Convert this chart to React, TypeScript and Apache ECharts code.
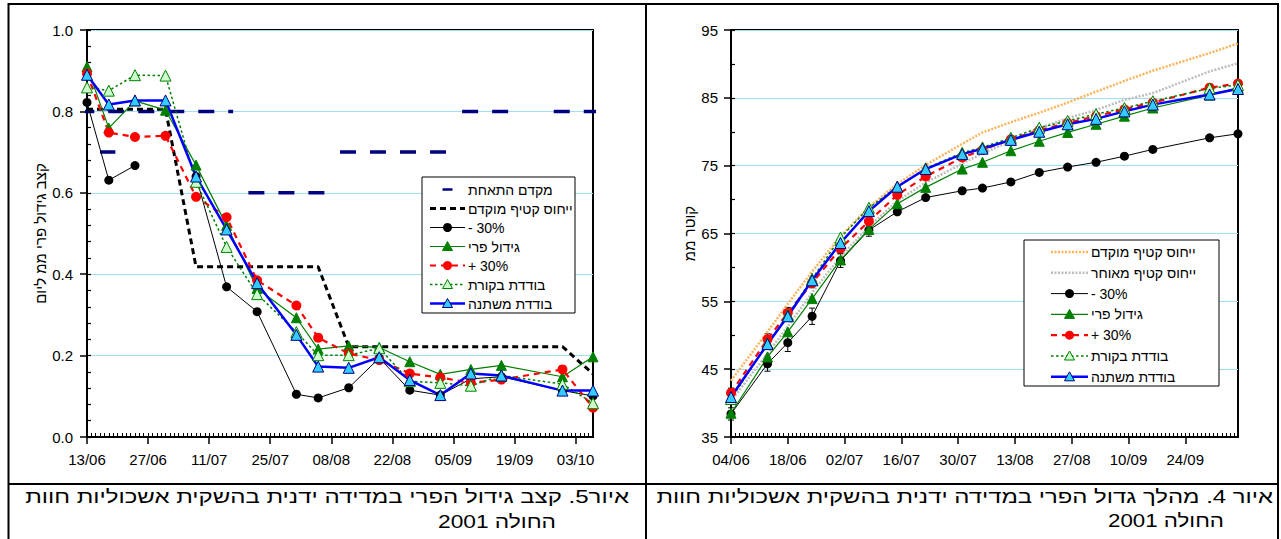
import React, { useEffect, useRef } from 'react';
import * as echarts from 'echarts';

const FONT = '"Liberation Sans", Arial, sans-serif';
const GRID_C = '#9fdff5';

// ---------- Figure 5 (left): fruit growth rate, mm/day ----------
const L_START = '13/06';
const L_MAX_DAY = 116; // 07/10
const L_DATES = ['13/06', '18/06', '24/06', '01/07', '08/07', '15/07', '22/07', '31/07', '05/08', '12/08', '19/08', '26/08', '02/09', '09/09', '16/09', '30/09', '07/10'];
const L_MINUS30 = [0.822, 0.631, 0.667, null, 0.640, 0.369, 0.308, 0.105, 0.096, 0.121, 0.194, 0.115, 0.103, 0.143, 0.148, 0.114, 0.101];
const L_GROWTH = [0.910, 0.759, 0.826, 0.803, 0.668, 0.520, 0.365, 0.293, 0.216, 0.224, 0.220, 0.185, 0.154, 0.166, 0.176, 0.148, 0.197];
const L_PLUS30 = [0.893, 0.748, 0.737, 0.740, 0.590, 0.540, 0.385, 0.323, 0.244, 0.205, 0.189, 0.156, 0.146, 0.133, 0.141, 0.166, 0.072];
const L_CONTROL = [0.859, 0.851, 0.889, 0.888, 0.627, 0.467, 0.351, 0.258, 0.201, 0.201, 0.218, 0.137, 0.133, 0.126, 0.151, 0.130, 0.083];
const L_VARIABLE = [0.890, 0.817, 0.827, 0.827, 0.640, 0.510, 0.378, 0.251, 0.173, 0.170, 0.196, 0.140, 0.103, 0.156, 0.151, 0.114, 0.114];
const L_REF_DATES = ['13/06', '01/07', '08/07', '05/08', '12/08', '30/09', '07/10'];
const L_REF = [0.805, 0.805, 0.418, 0.418, 0.222, 0.222, 0.155];
// crop coefficient steps (days from 13/06)
const L_COEF_FROM = [-2, 3, 37, 58, 86, 107];
const L_COEF_TO = [33.5, 6.5, 55, 83, 97.5, 118];
const L_COEF = [0.8, 0.7, 0.6, 0.7, 0.8, 0.8];

// ---------- Figure 4 (right): fruit diameter, mm ----------
const R_START = '04/06';
const R_MAX_DAY = 125; // 07/10
const R_DATES = ['04/06', '13/06', '18/06', '24/06', '01/07', '08/07', '15/07', '22/07', '31/07', '05/08', '12/08', '19/08', '26/08', '02/09', '09/09', '16/09', '30/09', '07/10'];
const R_EARLY = [43.3, 50.5, 54.6, 59.4, 64.6, 68.9, 72.3, 75.1, 78.2, 79.9, 81.4, 82.8, 84.3, 85.9, 87.5, 89.0, 91.6, 93.0];
const R_LATE = [40.3, 47.3, 51.3, 56.3, 61.6, 66.0, 69.8, 72.5, 75.3, 76.8, 78.6, 80.5, 82.0, 83.2, 84.7, 85.7, 88.9, 90.1];
const R_MINUS30 = [38.4, 45.8, 48.9, 52.8, 61.0, 65.5, 68.2, 70.3, 71.3, 71.7, 72.6, 74.0, 74.8, 75.5, 76.4, 77.4, 79.1, 79.7];
const R_GROWTH = [38.5, 46.8, 50.5, 55.4, 61.1, 65.6, 69.4, 71.8, 74.5, 75.5, 77.2, 78.6, 79.9, 81.1, 82.3, 83.5, 85.4, 86.5];
const R_PLUS30 = [41.5, 49.4, 53.3, 57.7, 62.8, 66.8, 70.7, 73.4, 76.2, 77.3, 78.9, 80.2, 81.3, 82.3, 83.3, 84.3, 86.5, 87.1];
const R_CONTROL = [40.6, 48.8, 53.0, 58.3, 64.4, 68.8, 71.9, 74.6, 76.9, 77.7, 79.1, 80.6, 81.6, 82.6, 83.5, 84.5, 86.4, 86.9];
const R_VARIABLE = [40.9, 48.7, 52.8, 58.1, 63.6, 68.3, 71.9, 74.5, 76.7, 77.5, 78.8, 80.0, 81.1, 81.9, 83.0, 84.0, 85.5, 86.3];
const R_ERR_MINUS30 = [0.9, 1.1, 1.3, 1.2, 1.0, 0.9];
const R_ERR_PLUS30 = [0.7, 0.8, 0.8, 0.7, 0.7, 0.6];
const R_Y_TICKS = [35, 45, 55, 65, 75, 85, 95];

const L_NAMES = ['מקדם התאחת', 'ייחוס קטיף מוקדם', '- 30%', 'גידול פרי', '+ 30%', 'בודדת בקורת', 'בודדת משתנה'];
const R_NAMES = ['ייחוס קטיף מוקדם', 'ייחוס קטיף מאוחר', '- 30%', 'גידול פרי', '+ 30%', 'בודדת בקורת', 'בודדת משתנה'];
const L_YNAME = 'קצב גידול פרי ממ ליום';
const R_YNAME = 'קוטר ממ';
const CAP_L = ['איור5. קצב גידול הפרי במדידה ידנית בהשקית אשכוליות חוות', 'החולה 2001'];
const CAP_R = ['איור 4. מהלך גדול הפרי במדידה ידנית בהשקית אשכוליות חוות', 'החולה 2001'];

type St = { color: string; width: number; dash?: number[]; sym?: 'circle' | 'triangle' | 'dash'; size?: number; fill?: string; stroke?: string };
const ST: Record<string, St> = {
  coef: { color: '#000080', width: 3.5, dash: [16, 14], sym: 'dash' },
  ref: { color: '#000000', width: 3, dash: [6, 4] },
  early: { color: '#FDB35A', width: 2.5, dash: [2, 1.5] },
  late: { color: '#BDBDBD', width: 2.5, dash: [2, 1.5] },
  minus: { color: '#000000', width: 1, sym: 'circle', size: 9, fill: '#000000', stroke: '#000000' },
  growth: { color: '#008000', width: 1.2, sym: 'triangle', size: 10, fill: '#008000', stroke: '#008000' },
  plus: { color: '#FF0000', width: 2.2, dash: [6, 5], sym: 'circle', size: 10, fill: '#FF0000', stroke: '#FF0000' },
  control: { color: '#008000', width: 1.5, dash: [2.5, 2.5], sym: 'triangle', size: 11, fill: '#CCFFCC', stroke: '#008000' },
  variable: { color: '#0000FF', width: 2.5, sym: 'triangle', size: 11, fill: '#33CCFF', stroke: '#000080' },
};

const dayNum = (s: string) => {
  const [d, m] = s.split('/').map(Number);
  return Date.UTC(2001, m - 1, d) / 86400000;
};
const pad = (n: number) => (n < 10 ? '0' + n : '' + n);
const fmtDay = (base: string) => (v: number) => {
  const t = new Date((dayNum(base) + v) * 86400000);
  return pad(t.getUTCDate()) + '/' + pad(t.getUTCMonth() + 1);
};
const off = (base: string, s: string) => dayNum(s) - dayNum(base);
const pairs = (base: string, dates: string[], vals: (number | null)[]) =>
  dates.map((d, i) => [off(base, d), vals[i] == null ? '-' : vals[i]]);

function lineSeries(name: string, key: string, xi: number, yi: number, data: any[], extra: any = {}) {
  const s = ST[key];
  const hasSym = s.sym === 'circle' || s.sym === 'triangle';
  return {
    name,
    type: 'line',
    xAxisIndex: xi,
    yAxisIndex: yi,
    data,
    symbol: hasSym ? s.sym : 'none',
    symbolSize: s.size || 0,
    showSymbol: hasSym,
    lineStyle: { color: s.color, width: s.width, type: s.dash ? s.dash : 'solid' },
    itemStyle: { color: s.fill || s.color, borderColor: s.stroke || s.color, borderWidth: s.sym === 'triangle' ? 1 : 0 },
    emphasis: { disabled: true },
    silent: true,
    ...extra,
  };
}

function legendEls(box: { x: number; y: number; w: number; h: number }, names: string[], keys: string[], x1: number, x2: number, tx: number, y0: number, step: number) {
  const els: any[] = [
    { type: 'rect', z: 50, shape: { x: box.x, y: box.y, width: box.w, height: box.h }, style: { fill: '#ffffff', stroke: '#000000', lineWidth: 1 } },
  ];
  keys.forEach((k, i) => {
    const s = ST[k];
    const cy = y0 + i * step;
    const cx = (x1 + x2) / 2;
    if (s.sym === 'dash') {
      els.push({ type: 'line', z: 51, shape: { x1: cx - 5, y1: cy, x2: cx + 5, y2: cy }, style: { stroke: s.color, lineWidth: 2.5 } });
    } else {
      els.push({ type: 'line', z: 51, shape: { x1, y1: cy, x2, y2: cy }, style: { stroke: s.color, lineWidth: s.width, lineDash: s.dash || null } });
    }
    if (s.sym === 'circle') {
      els.push({ type: 'circle', z: 52, shape: { cx, cy, r: 4.5 }, style: { fill: s.fill } });
    } else if (s.sym === 'triangle') {
      const h = 5;
      els.push({ type: 'polygon', z: 52, shape: { points: [[cx, cy - h], [cx + h, cy + h * 0.8], [cx - h, cy + h * 0.8]] }, style: { fill: s.fill, stroke: s.stroke, lineWidth: 1 } });
    }
    els.push({ type: 'text', z: 52, x: tx, y: cy, style: { text: names[i], font: '14px ' + FONT, fill: '#000000', align: 'left', verticalAlign: 'middle' } });
  });
  return els;
}

function measure(text: string, font: string) {
  const c = document.createElement('canvas').getContext('2d');
  if (!c) return 1;
  c.font = font;
  return c.measureText(text).width || 1;
}

function captionEl(text: string, right: number, left: number, cy: number) {
  const font = '18px ' + FONT;
  const w = measure(text, font);
  return { type: 'text', z: 60, x: right, y: cy, scaleX: (right - left) / w, style: { text, font, fill: '#000000', align: 'right', verticalAlign: 'middle' } };
}

export default function App() {
  const ref = useRef<HTMLDivElement>(null);
  useEffect(() => {
    if (!ref.current) return;
    const chart = echarts.init(ref.current, null, { renderer: 'svg' });

    const tickLine = { color: '#000000', width: 1.5 };
    const labelStyle = { color: '#000000', fontSize: 15, fontFamily: FONT };
    const majorX = (grid: number, max: number, base: string) => ({
      gridIndex: grid, type: 'value', position: 'bottom', min: 0, max, interval: 14,
      axisLine: { show: true, onZero: false, lineStyle: { color: '#000000', width: 2 } },
      axisTick: { show: true, length: 7, lineStyle: tickLine },
      axisLabel: { ...labelStyle, margin: 15, formatter: fmtDay(base), showMaxLabel: false },
      splitLine: { show: false },
    });
    const minorX = (grid: number, max: number) => ({
      gridIndex: grid, type: 'value', position: 'bottom', offset: 0, min: 0, max, interval: 1,
      axisLine: { show: false, onZero: false }, axisLabel: { show: false }, splitLine: { show: false },
      axisTick: { show: true, inside: true, length: 4, lineStyle: { color: '#000000', width: 1 } },
    });

    const coefData: any[] = [];
    L_COEF.forEach((v, i) => {
      coefData.push([L_COEF_FROM[i], v], [L_COEF_TO[i], v], ['-', '-']);
    });

    const errData: any[] = [];
    R_ERR_MINUS30.forEach((e, i) => errData.push([off(R_START, R_DATES[i]), R_MINUS30[i] - e, R_MINUS30[i] + e]));
    R_ERR_PLUS30.forEach((e, i) => errData.push([off(R_START, R_DATES[i]), R_PLUS30[i] - e, R_PLUS30[i] + e]));

    const frame = [
      { x1: 8, y1: 4, x2: 1278, y2: 4 },
      { x1: 8, y1: 484, x2: 1278, y2: 484 },
      { x1: 8.5, y1: 3, x2: 8.5, y2: 539 },
      { x1: 646, y1: 3, x2: 646, y2: 539 },
      { x1: 1278, y1: 3, x2: 1278, y2: 539 },
    ].map((s) => ({ type: 'line', z: 60, shape: s, style: { stroke: '#000000', lineWidth: 2 } }));

    const option: any = {
      animation: false,
      backgroundColor: '#ffffff',
      textStyle: { fontFamily: FONT },
      grid: [
        { left: 87, top: 30, width: 506, height: 407, show: true, borderColor: '#000000', borderWidth: 2, backgroundColor: 'transparent' },
        { left: 731, top: 30, width: 507, height: 407, show: true, borderColor: '#000000', borderWidth: 2, backgroundColor: 'transparent' },
      ],
      xAxis: [majorX(0, L_MAX_DAY, L_START), minorX(0, L_MAX_DAY), majorX(1, R_MAX_DAY, R_START), minorX(1, R_MAX_DAY)],
      yAxis: [
        {
          gridIndex: 0, type: 'value', position: 'left', min: 0, max: 1, interval: 0.2,
          axisLine: { show: true, onZero: false, lineStyle: { color: '#000000', width: 2 } },
          axisTick: { show: true, length: 7, lineStyle: tickLine },
          axisLabel: { ...labelStyle, margin: 14, formatter: (v: number) => v.toFixed(1) },
          splitLine: { show: true, lineStyle: { color: GRID_C, width: 1 } },
          name: L_YNAME, nameLocation: 'middle', nameGap: 34, nameRotate: 90,
          nameTextStyle: { color: '#000000', fontSize: 15, fontFamily: FONT },
        },
        {
          gridIndex: 0, type: 'value', position: 'left', offset: 0, min: 0, max: 1, interval: 0.04,
          axisLine: { show: false, onZero: false }, axisLabel: { show: false }, splitLine: { show: false },
          axisTick: { show: true, inside: true, length: 4, lineStyle: { color: '#000000', width: 1.2 } },
        },
        {
          gridIndex: 1, type: 'value', position: 'left', min: 35, max: 95, interval: 5,
          axisLine: { show: true, onZero: false, lineStyle: { color: '#000000', width: 2 } },
          axisTick: { show: true, length: 7, lineStyle: tickLine, customValues: R_Y_TICKS },
          axisLabel: { ...labelStyle, margin: 13, customValues: R_Y_TICKS, formatter: (v: number) => (R_Y_TICKS.indexOf(v) >= 0 ? String(v) : '') },
          splitLine: { show: true, lineStyle: { color: GRID_C, width: 1 } },
          name: R_YNAME, nameLocation: 'middle', nameGap: 24, nameRotate: 90,
          nameTextStyle: { color: '#000000', fontSize: 15, fontFamily: FONT },
        },
        {
          gridIndex: 1, type: 'value', position: 'left', offset: 0, min: 35, max: 95, interval: 5,
          axisLine: { show: false, onZero: false }, axisLabel: { show: false }, splitLine: { show: false },
          axisTick: { show: true, inside: true, length: 4, lineStyle: { color: '#000000', width: 1.2 } },
        },
      ],
      series: [
        // bound to the tick-only axes (identical ranges)
        lineSeries(L_NAMES[0], 'coef', 1, 1, coefData, { clip: false }),
        lineSeries(L_NAMES[1], 'ref', 0, 0, pairs(L_START, L_REF_DATES, L_REF)),
        lineSeries(L_NAMES[2], 'minus', 0, 0, pairs(L_START, L_DATES, L_MINUS30)),
        lineSeries(L_NAMES[3], 'growth', 0, 0, pairs(L_START, L_DATES, L_GROWTH)),
        lineSeries(L_NAMES[4], 'plus', 0, 0, pairs(L_START, L_DATES, L_PLUS30)),
        lineSeries(L_NAMES[5], 'control', 0, 0, pairs(L_START, L_DATES, L_CONTROL)),
        lineSeries(L_NAMES[6], 'variable', 0, 0, pairs(L_START, L_DATES, L_VARIABLE)),

        lineSeries(R_NAMES[0], 'early', 3, 3, pairs(R_START, R_DATES, R_EARLY)),
        lineSeries(R_NAMES[1], 'late', 2, 2, pairs(R_START, R_DATES, R_LATE)),
        {
          type: 'custom', xAxisIndex: 2, yAxisIndex: 2, data: errData, silent: true,
          encode: { x: 0, y: [1, 2] },
          renderItem: (_p: any, api: any) => {
            const x = api.value(0);
            const a = api.coord([x, api.value(1)]);
            const b = api.coord([x, api.value(2)]);
            const st = { stroke: '#000000', lineWidth: 1 };
            return {
              type: 'group',
              children: [
                { type: 'line', shape: { x1: a[0], y1: a[1], x2: b[0], y2: b[1] }, style: st },
                { type: 'line', shape: { x1: a[0] - 3, y1: a[1], x2: a[0] + 3, y2: a[1] }, style: st },
                { type: 'line', shape: { x1: b[0] - 3, y1: b[1], x2: b[0] + 3, y2: b[1] }, style: st },
              ],
            };
          },
        },
        lineSeries(R_NAMES[2], 'minus', 2, 2, pairs(R_START, R_DATES, R_MINUS30)),
        lineSeries(R_NAMES[3], 'growth', 2, 2, pairs(R_START, R_DATES, R_GROWTH)),
        lineSeries(R_NAMES[4], 'plus', 2, 2, pairs(R_START, R_DATES, R_PLUS30)),
        lineSeries(R_NAMES[5], 'control', 2, 2, pairs(R_START, R_DATES, R_CONTROL)),
        lineSeries(R_NAMES[6], 'variable', 2, 2, pairs(R_START, R_DATES, R_VARIABLE)),
      ],
      graphic: {
        elements: [
          ...legendEls({ x: 422, y: 177, w: 153, h: 136 }, L_NAMES, ['coef', 'ref', 'minus', 'growth', 'plus', 'control', 'variable'], 430, 465, 468, 189.5, 19),
          ...legendEls({ x: 1024, y: 240, w: 195, h: 146 }, R_NAMES, ['early', 'late', 'minus', 'growth', 'plus', 'control', 'variable'], 1051, 1088, 1091, 252, 20.8),
          ...frame,
          captionEl(CAP_L[0], 629, 25, 497),
          captionEl(CAP_L[1], 556, 438, 521),
          captionEl(CAP_R[0], 1273, 656, 497),
          captionEl(CAP_R[1], 1224, 1108, 521),
        ],
      },
    };
    chart.setOption(option);
    return () => chart.dispose();
  }, []);

  return <div ref={ref} style={{ position: 'absolute', left: 0, top: 0, width: 1281, height: 539, background: '#ffffff' }} />;
}
